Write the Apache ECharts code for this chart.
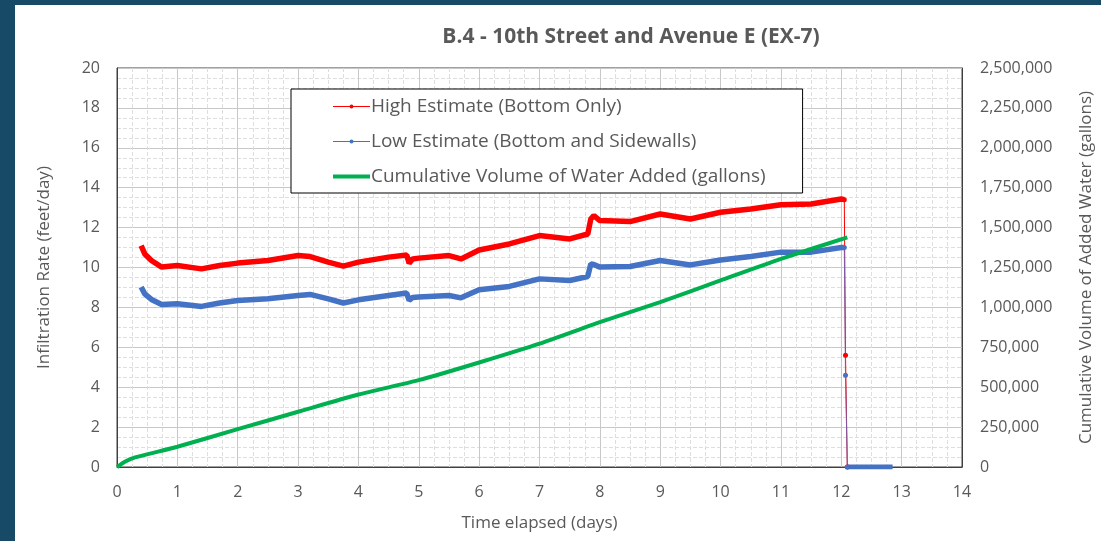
<!DOCTYPE html>
<html>
<head>
<meta charset="utf-8">
<title>B.4 - 10th Street and Avenue E (EX-7)</title>
<script src="https://cdn.jsdelivr.net/npm/echarts@6/dist/echarts.min.js"></script>
<style>
  html, body { margin: 0; padding: 0; background: #164a66; }
  #chart { position: absolute; left: 15px; top: 5px; width: 1086px; height: 536px; background: #fff; }
</style>
</head>
<body>
<div id="chart"></div>
<script>
// infiltration rate readings (feet/day) vs elapsed time (days)
var rateDays = [0.40, 0.46, 0.57, 0.74, 1.0, 1.4, 1.7, 2.0, 2.5, 3.0, 3.2, 3.5, 3.75, 4.0, 4.5, 4.8, 4.84, 4.9, 5.0, 5.5, 5.7, 6.0, 6.5, 7.0, 7.5, 7.8, 7.85, 7.9, 8.0, 8.5, 9.0, 9.5, 10.0, 10.5, 11.0, 11.5, 12.0, 12.05];
var highRate = [11.1, 10.68, 10.35, 10.02, 10.1, 9.93, 10.1, 10.22, 10.35, 10.6, 10.55, 10.27, 10.07, 10.27, 10.52, 10.63, 10.22, 10.43, 10.47, 10.6, 10.43, 10.88, 11.18, 11.6, 11.43, 11.68, 12.43, 12.6, 12.35, 12.3, 12.68, 12.43, 12.77, 12.93, 13.15, 13.18, 13.43, 13.4];
var lowRate = [9.02, 8.68, 8.4, 8.15, 8.18, 8.05, 8.22, 8.35, 8.43, 8.6, 8.65, 8.43, 8.22, 8.38, 8.6, 8.72, 8.35, 8.5, 8.52, 8.6, 8.48, 8.88, 9.05, 9.43, 9.35, 9.55, 10.18, 10.15, 10.02, 10.05, 10.35, 10.13, 10.38, 10.55, 10.77, 10.77, 11.0, 11.0];

// end of test: readings drop off
var dropDays = [12.05, 12.07, 12.1];
var highDrop = [13.4, 5.6, 0];
var lowDrop = [11.0, 4.6, 0];
var zeroDays = [12.1, 12.85];
var zeroRate = [0, 0];

// cumulative water added (gallons)
var volDays = [0, 0.13, 0.3, 1, 2, 3, 4, 5, 6, 7, 8, 9, 10, 11, 12.1];
var volGallons = [0, 33000, 60000, 127000, 237000, 346000, 454000, 544000, 655000, 773000, 908000, 1033000, 1169000, 1304000, 1439000];

var HIGH = 'High Estimate (Bottom Only)';
var LOW = 'Low Estimate (Bottom and Sidewalls)';
var VOL = 'Cumulative Volume of Water Added (gallons)';
var red = '#ff0000', blue = '#4472c4', green = '#00b050';
var txt = '#595959';
var font = '"Open Sans", "Noto Sans", sans-serif';

function pairs(xs, ys) {
  return xs.map(function(x, i) { return [x, ys[i]]; });
}

var chart = echarts.init(document.getElementById('chart'));
chart.setOption({
  animation: false,
  textStyle: { fontFamily: font },
  title: {
    text: 'B.4 - 10th Street and Avenue E (EX-7)',
    left: 611, top: 17, textAlign: 'center',
    textStyle: { fontSize: 21, fontWeight: 'bold', color: txt, fontFamily: font }
  },
  legend: {
    orient: 'vertical', left: 276, top: 84,
    backgroundColor: '#fff', borderColor: '#000', borderWidth: 1,
    padding: [7, 37, 6, 40],
    itemWidth: 37, itemHeight: 5, itemGap: 14,
    textStyle: { fontSize: 19, lineHeight: 21, color: txt, fontFamily: font, padding: [0, 0, 0, -4] },
    data: [
      { name: HIGH, itemStyle: { color: red }, lineStyle: { width: 1 } },
      { name: LOW, itemStyle: { color: blue }, lineStyle: { width: 1 } },
      { name: VOL, itemStyle: { opacity: 0 }, lineStyle: { width: 4 } }
    ]
  },
  grid: { left: 102, top: 63, width: 845, height: 399, outerBoundsMode: 'none', containLabel: false,
    show: true, borderColor: '#404040', borderWidth: 1, backgroundColor: 'transparent' },
  xAxis: {
    type: 'value', min: 0, max: 14, interval: 1,
    name: 'Time elapsed (days)', nameLocation: 'middle', nameGap: 48,
    nameTextStyle: { fontSize: 17, color: txt },
    axisLine: { lineStyle: { color: '#404040' } },
    axisTick: { show: false },
    axisLabel: { fontSize: 16, color: txt, margin: 17 },
    splitLine: { lineStyle: { color: '#c8c8c8' } },
    minorTick: { show: false, splitNumber: 4 },
    minorSplitLine: { show: true, lineStyle: { color: '#dedede', type: 'dashed' } }
  },
  yAxis: [{
    type: 'value', min: 0, max: 20, interval: 2,
    name: 'Infiltration Rate (feet/day)', nameLocation: 'middle', nameGap: 64, nameRotate: 90,
    nameTextStyle: { fontSize: 17, color: txt },
    axisLine: { show: true, lineStyle: { color: '#404040' } },
    axisTick: { show: false },
    axisLabel: { fontSize: 16, color: txt, margin: 17 },
    splitLine: { lineStyle: { color: '#c8c8c8' } },
    minorTick: { show: false, splitNumber: 4 },
    minorSplitLine: { show: true, lineStyle: { color: '#dedede', type: 'dashed' } }
  }, {
    type: 'value', min: 0, max: 2500000, interval: 250000, position: 'right',
    name: 'Cumulative Volume of Added Water (gallons)', nameLocation: 'middle', nameGap: 116, nameRotate: 90,
    nameTextStyle: { fontSize: 17, color: txt },
    axisLine: { show: true, lineStyle: { color: '#404040' } },
    axisTick: { show: false },
    axisLabel: { fontSize: 16, color: txt, margin: 18, formatter: function(v) { return v.toLocaleString('en-US'); } },
    splitLine: { show: false }
  }],
  series: [
    { name: HIGH, type: 'line', data: pairs(rateDays, highRate), symbol: 'circle', showSymbol: false,
      lineStyle: { color: red, width: 5.5 }, itemStyle: { color: red }, z: 3 },
    { name: LOW, type: 'line', data: pairs(rateDays, lowRate), symbol: 'circle', showSymbol: false,
      lineStyle: { color: blue, width: 5.5 }, itemStyle: { color: blue }, z: 3 },
    { name: VOL, type: 'line', yAxisIndex: 1, data: pairs(volDays, volGallons), symbol: 'none', smooth: 0.2,
      lineStyle: { color: green, width: 4 }, itemStyle: { color: green }, z: 4 },
    { name: 'high-drop', type: 'line', data: pairs(dropDays, highDrop), symbol: 'circle', symbolSize: 5,
      lineStyle: { color: red, width: 1 }, itemStyle: { color: red }, z: 3 },
    { name: 'low-drop', type: 'line', data: pairs(dropDays, lowDrop), symbol: 'circle', symbolSize: 5,
      lineStyle: { color: '#7a5aa6', width: 1 }, itemStyle: { color: blue }, z: 3 },
    { name: 'low-zero', type: 'line', data: pairs(zeroDays, zeroRate), symbol: 'none',
      lineStyle: { color: blue, width: 5 }, z: 3 }
  ]
});
</script>
</body>
</html>
